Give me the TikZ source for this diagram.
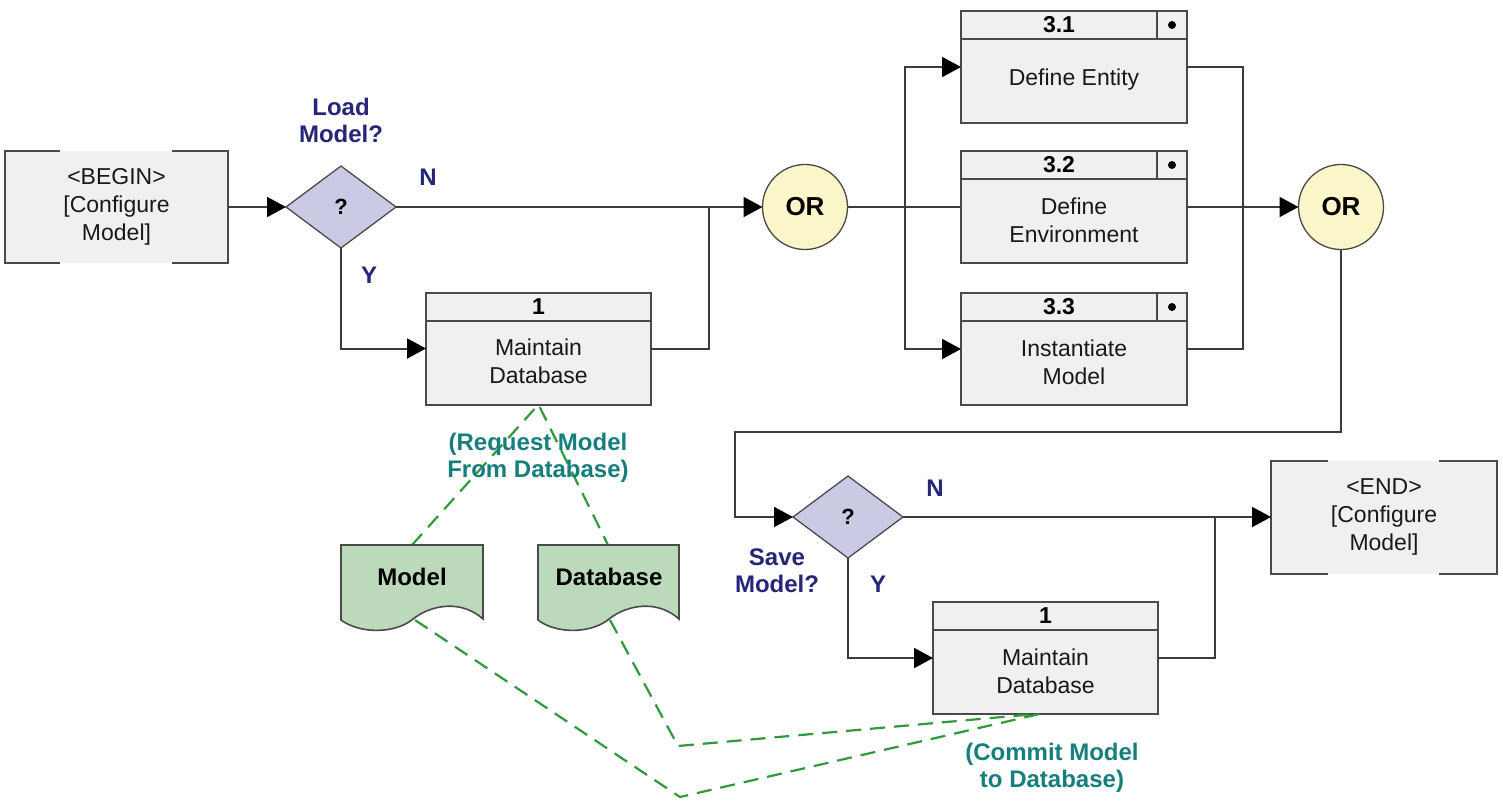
\documentclass[tikz,border=0pt]{standalone}
\usepackage{fontspec}
\setmainfont{Liberation Sans}
\usetikzlibrary{arrows.meta,shapes.geometric}
\definecolor{boxfill}{HTML}{F0F0F0}
\definecolor{edgegray}{HTML}{4A4A4A}
\definecolor{wiregray}{HTML}{3C3C3C}
\definecolor{qfill}{HTML}{CACAE4}
\definecolor{orfill}{HTML}{FAF6CA}
\definecolor{docfill}{HTML}{BDD9BC}
\definecolor{labelnavy}{HTML}{25257A}
\definecolor{noteteal}{HTML}{167F7C}
\definecolor{dashgreen}{HTML}{2F9A3C}

\tikzset{
  boxtxt/.style={font=\fontsize{23}{28}\selectfont, align=center, text=black!90, inner sep=0pt},
  hdrtxt/.style={font=\bfseries\fontsize{23}{28}\selectfont, text=black, inner sep=0pt},
  proc/.style={draw=edgegray, fill=boxfill, line width=2pt, minimum width=225pt,
    minimum height=112pt, inner sep=0pt, outer sep=0pt},
  terminal/.style={fill=boxfill, minimum width=223pt, minimum height=112pt,
    inner sep=0pt, outer sep=0pt, font=\fontsize{23}{28}\selectfont, align=center, text=black!90},
  bracket/.style={draw=edgegray, line width=2pt},
  cond/.style={diamond, draw=edgegray, fill=qfill, line width=1.3pt, minimum width=110pt,
    minimum height=82pt, inner sep=0pt, outer sep=0pt, font=\bfseries\fontsize{22}{22}\selectfont},
  orgate/.style={circle, draw=edgegray, fill=orfill, line width=1.3pt, minimum size=85pt,
    inner sep=0pt, outer sep=0pt, font=\bfseries\fontsize{26}{26}\selectfont},
  wire/.style={draw=wiregray, line width=2pt},
  arr/.style={wire, -{Triangle[length=19pt,width=20pt,color=black]}},
  dashlink/.style={draw=dashgreen, line width=2.2pt, dash pattern=on 15pt off 9pt},
  qlabel/.style={text=labelnavy, font=\bfseries\fontsize{24}{27}\selectfont, align=center},
  note/.style={text=noteteal, font=\bfseries\fontsize{24}{27}\selectfont, align=center},
  doc/.style={draw=edgegray, fill=docfill, line width=1.6pt},
  doctxt/.style={font=\bfseries\fontsize{24}{27}\selectfont, text=black}
}

\begin{document}
\begin{tikzpicture}[x=1pt,y=-1pt]
\fill[white] (0,0) rectangle (1503,801);
\useasboundingbox (0,0) rectangle (1503,801);

% ---------- start and end terminals ----------
\node[terminal] (begin) at (116.5,207) {<BEGIN>\\{}[Configure\\Model]};
\draw[bracket] ([xshift=55pt]begin.north west) -- (begin.north west) -- (begin.south west) -- ([xshift=55pt]begin.south west);
\draw[bracket] ([xshift=-56pt]begin.north east) -- (begin.north east) -- (begin.south east) -- ([xshift=-56pt]begin.south east);

\node[terminal, minimum width=226pt, minimum height=113pt] (end) at (1384,517) {<END>\\{}[Configure\\Model]};
\draw[bracket] ([xshift=57pt]end.north west) -- (end.north west) -- (end.south west) -- ([xshift=57pt]end.south west);
\draw[bracket] ([xshift=-58pt]end.north east) -- (end.north east) -- (end.south east) -- ([xshift=-58pt]end.south east);

% ---------- decisions ----------
\node[cond] (q1) at (341,207) {?};
\node[qlabel] at (341,120) {Load\\Model?};
\node[qlabel] at (428,177) {N};
\node[qlabel] at (369,275) {Y};

\node[cond] (q2) at (848,517) {?};
\node[qlabel] at (777,571) {Save\\Model?};
\node[qlabel] at (935,488) {N};
\node[qlabel] at (878,584) {Y};

% ---------- OR junctions ----------
\node[orgate] (or1) at (805,207) {OR};
\node[orgate] (or2) at (1341,207) {OR};

% ---------- activity boxes ----------
\node[proc] (m1) at (538.5,348.5) {};
\draw[bracket] ([yshift=-28pt]m1.north west) -- ([yshift=-28pt]m1.north east);
\node[hdrtxt] at ([yshift=-14pt]m1.north) {1};
\node[boxtxt] at ([yshift=-13pt]m1.center) {Maintain\\Database};

\node[proc] (m2) at (1045.5,658) {};
\draw[bracket] ([yshift=-28pt]m2.north west) -- ([yshift=-28pt]m2.north east);
\node[hdrtxt] at ([yshift=-14pt]m2.north) {1};
\node[boxtxt] at ([yshift=-13pt]m2.center) {Maintain\\Database};

\foreach \nm/\cy/\num/\body in {p31/67/3.1/{Define Entity}, p32/207/3.2/{Define\\Environment}, p33/349/3.3/{Instantiate\\Model}}{
  \node[proc, minimum width=226pt] (\nm) at (1074,\cy) {};
  \draw[bracket] ([yshift=-28pt]\nm.north west) -- ([yshift=-28pt]\nm.north east);
  \draw[bracket] ([xshift=-30pt]\nm.north east) -- ([xshift=-30pt,yshift=-28pt]\nm.north east);
  \fill[black] ([xshift=-15pt,yshift=-14pt]\nm.north east) circle (4pt);
  \node[hdrtxt] at ([xshift=-15pt,yshift=-14pt]\nm.north) {\num};
  \node[boxtxt] at ([yshift=-13pt]\nm.center) {\body};
}

% ---------- control flow ----------
\coordinate (j1) at (709,207);
\coordinate (fork) at (905,207);
\coordinate (merge) at (1243,207);
\coordinate (loopR) at (1341,432);
\coordinate (loopL) at (735,432);
\coordinate (j2) at (1215,517);

\draw[arr] (begin.east) -- (q1.west);
\draw[arr] (q1.east) -- (or1.west);
\draw[arr] (q1.south) |- (m1.west);
\draw[wire] (m1.east) -| (j1);
\draw[wire] (or1.east) -- (p32.west);
\draw[arr] (fork) |- (p31.west);
\draw[arr] (fork) |- (p33.west);
\draw[wire] (p31.east) -| (merge);
\draw[wire] (p33.east) -| (merge);
\draw[arr] (p32.east) -- (or2.west);
\draw[arr] (or2.south) -- (loopR) -- (loopL) |- (q2.west);
\draw[arr] (q2.east) -- (end.west);
\draw[arr] (q2.south) |- (m2.west);
\draw[wire] (m2.east) -| (j2);

% ---------- data links ----------
\coordinate (d1top) at (412,545);
\coordinate (d1bot) at (415,620);
\coordinate (d2top) at (608,545);
\coordinate (d2bot) at (610,620);
\coordinate (c1) at (678,746);
\coordinate (c2) at (680,797);

\draw[dashlink] (d1top) -- (m1.south) -- (d2top);
\draw[dashlink] (d2bot) -- (c1) -- ([xshift=-10pt]m2.south);
\draw[dashlink] (d1bot) -- (c2) -- ([xshift=-6pt]m2.south);

% data documents
\draw[doc] (341,545) -- (483,545) -- (483,619)
  .. controls (462,600) and (432,604) .. (413,619)
  .. controls (395,634) and (360,634) .. (341,620) -- cycle;
\draw[doc] (538,545) -- (679,545) -- (679,619)
  .. controls (658,600) and (628,604) .. (609,619)
  .. controls (591,634) and (556,634) .. (538,620) -- cycle;
\node[doctxt] (doc1) at (412,577) {Model};
\node[doctxt] (doc2) at (609,577) {Database};

\node[note] at (538,458) {(Request Model\\From Database)};
\node[note] at (1052,768) {(Commit Model\\to Database)};
\end{tikzpicture}
\end{document}
